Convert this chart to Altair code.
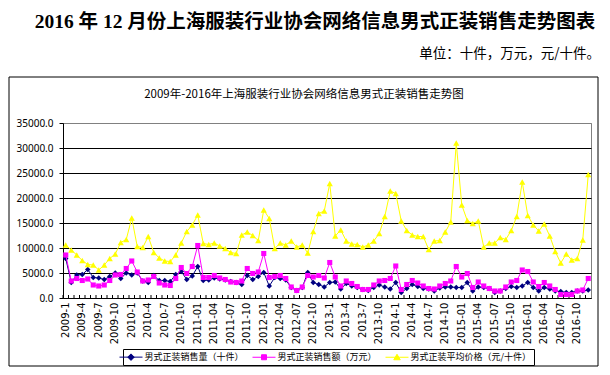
import altair as alt
import pandas as pd

# ---------------- data ----------------
YEARS = [2009, 2010, 2011, 2012, 2013, 2014, 2015, 2016]
ZERO_PADDED_YEARS = [2011, 2012, 2015, 2016]
MONTHS = [f"{y}-{m:02d}" if y in ZERO_PADDED_YEARS else f"{y}-{m}"
          for y in YEARS for m in range(1, 13)]

TICK_LABELS = [
    "2009-1", "2009-4", "2009-7", "2009-10",
    "2010-1", "2010-4", "2010-7", "2010-10",
    "2011-01", "2011-04", "2011-07", "2011-10",
    "2012-01", "2012-04", "2012-07", "2012-10",
    "2013-1", "2013-4", "2013-7", "2013-10",
    "2014-1", "2014-4", "2014-7", "2014-10",
    "2015-01", "2015-04", "2015-07", "2015-10",
    "2016-01", "2016-04", "2016-07", "2016-10",
]

SERIES = ["男式正装销售量（十件）", "男式正装销售额（万元）", "男式正装平均价格（元/十件）"]

QTY = [
    7900, 3100, 4600, 4700, 5700, 4100, 4000, 3700, 4300, 5000, 3900, 5000,
    4600, 5000, 3400, 3100, 4500, 3500, 3500, 3300, 4700, 5300, 3700, 4400,
    6300, 3500, 3600, 4000, 3800, 3600, 3300, 3100, 2700, 4500, 3700, 4300,
    5100, 2400, 4100, 3900, 3600, 2100, 1500, 2100, 5100, 3100, 2700, 2200,
    3100, 3200, 1800, 2900, 2400, 2100, 1700, 1500, 2100, 2600, 2200, 1800,
    3100, 1100, 1900, 2700, 2300, 1900, 1800, 1400, 2000, 2200, 2200, 2100,
    2100, 3100, 1400, 2200, 2100, 1900, 1100, 1400, 1900, 2300, 2100, 2400,
    3100, 2100, 1400, 2100, 1800, 1400, 1300, 1100, 1100, 1400, 1400, 1600,
]

AMT = [
    8600, 3400, 3900, 3500, 3800, 2600, 2400, 2600, 3500, 4600, 4700, 5900,
    7400, 5200, 3400, 3600, 4300, 3000, 2600, 2500, 3900, 6100, 4900, 6300,
    10500, 4100, 4100, 4500, 4000, 3700, 3200, 3100, 3400, 5900, 4900, 5200,
    8900, 4100, 4300, 4500, 3900, 2200, 1500, 2200, 4500, 4200, 4500, 4000,
    7100, 4200, 2400, 3400, 2900, 2300, 1700, 1700, 2600, 3400, 3500, 3900,
    6400, 1700, 2700, 3500, 3000, 2400, 1900, 1800, 2400, 2900, 3400, 6300,
    4200, 4900, 2100, 3200, 2400, 1900, 1400, 1400, 2200, 3200, 3500, 5600,
    5300, 3200, 2300, 3100, 2400, 1700, 700, 700, 700, 1400, 1600, 3900,
]

PRICE = [
    10600, 9600, 8600, 7500, 6700, 6600, 5600, 6600, 7900, 8800, 11100, 11700,
    16000, 10300, 10100, 12300, 9100, 8000, 7400, 7300, 8600, 11000, 13300, 14600,
    16600, 10900, 10700, 11000, 10400, 9900, 9100, 8900, 12600, 13200, 12500, 11500,
    17600, 15900, 9900, 11000, 10600, 11400, 10200, 10600, 9000, 13300, 16900, 17400,
    22900, 12400, 13600, 11400, 10800, 10700, 10200, 10600, 11400, 12900, 16300, 21400,
    20900, 15400, 13500, 12600, 12300, 12300, 9700, 11400, 11500, 13200, 15200, 31000,
    18600, 15500, 14900, 15400, 10200, 11000, 11000, 12100, 11700, 13500, 16300, 23200,
    16500, 14600, 13400, 14800, 12400, 9300, 7000, 8800, 7600, 7900, 11600, 24700,
]

Y_TICKS = [0, 5000, 10000, 15000, 20000, 25000, 30000, 35000]
COLORS = ["#000080", "#FF00FF", "#FFFF00"]
SHAPES = ["diamond", "square", "triangle-up"]
SIZES = [30, 26, 38]
LEGEND_SYMBOLS = [
    "M-2.3,0H2.3M0,-0.65L0.65,0L0,0.65L-0.65,0Z",
    "M-2.3,0H2.3M-0.5,-0.5H0.5V0.5H-0.5Z",
    "M-2.3,0H2.3M0,-0.6L0.65,0.5H-0.65Z",
]

TITLE = "2016 年 12 月份上海服装行业协会网络信息男式正装销售走势图表"
SUBTITLE = "单位：十件，万元，元/十件。"
INNER_TITLE = "2009年-2016年上海服装行业协会网络信息男式正装销售走势图"

rows = []
for name, vals in zip(SERIES, [QTY, AMT, PRICE]):
    for m, v in zip(MONTHS, vals):
        rows.append({"month": m, "series": name, "value": v})
df = pd.DataFrame(rows)
month_df = pd.DataFrame({"month": MONTHS})

# ---------------- encodings ----------------
x_axis = alt.Axis(
    values=TICK_LABELS, labelAngle=-90, labelFont="DejaVu Sans", labelFontSize=10,
    labelColor="black", labelPadding=4, labelOverlap=False, ticks=False,
    domainColor="black", domainWidth=1, grid=False, title=None,
)
x_scale = alt.Scale(type="band", paddingInner=0, paddingOuter=0)


def x_enc(pos):
    return alt.X("month:O", sort=MONTHS, scale=x_scale, axis=x_axis, bandPosition=pos)


y_enc = alt.Y(
    "value:Q",
    scale=alt.Scale(domain=[0, 35000], nice=False, zero=True),
    axis=alt.Axis(
        values=Y_TICKS, format=".1f", labelFont="Noto Sans", labelFontSize=10,
        labelColor="black", tickColor="black", tickSize=4, labelPadding=6,
        domainColor="black", domainWidth=1,
        gridColor=alt.condition("datum.value >= 35000", alt.value("#808080"), alt.value("black")),
        gridWidth=1, gridOpacity=1, title=None,
    ),
)

base = alt.Chart(df)
layers = []

# category tick marks on the bottom axis
layers.append(
    alt.Chart(month_df).mark_rule(color="black", strokeWidth=1).encode(
        x=x_enc(0), y=alt.value(172), y2=alt.value(175)
    )
)

for name, color, shape, size in zip(SERIES, COLORS, SHAPES, SIZES):
    sub = base.transform_filter(alt.datum.series == name)
    layers.append(sub.mark_line(color=color, strokeWidth=1).encode(x=x_enc(0.5), y=y_enc))
    layers.append(
        sub.mark_point(shape=shape, filled=True, color=color, size=size, opacity=1).encode(
            x=x_enc(0.5), y=y_enc
        )
    )

legend = alt.Legend(
    title=None, orient="none", legendX=60, legendY=226, direction="horizontal",
    strokeColor="black", fillColor="white", padding=2.5,
    labelFont="Noto Sans CJK SC", labelFontSize=9, labelColor="black",
    symbolSize=100, symbolStrokeWidth=1, labelOffset=8, columnPadding=6, labelLimit=300,
)
layers.append(
    base.transform_filter("false").mark_point(filled=True, strokeWidth=1, opacity=1).encode(
        fill=alt.Fill("series:N", scale=alt.Scale(domain=SERIES, range=COLORS), legend=legend),
        stroke=alt.Stroke("series:N", scale=alt.Scale(domain=SERIES, range=COLORS), legend=legend),
        shape=alt.Shape("series:N", scale=alt.Scale(domain=SERIES, range=LEGEND_SYMBOLS), legend=legend),
    )
)

# chart area frame and texts
deco = alt.Chart(alt.Data(values=[{}]))
layers.append(
    deco.mark_rect(fill="transparent", stroke="black", strokeWidth=1).encode(
        x=alt.value(-54), x2=alt.value(535), y=alt.value(-46), y2=alt.value(243)
    )
)
layers.append(
    deco.mark_text(
        text=TITLE, font="Liberation Serif, Noto Sans CJK SC", fontSize=19.5,
        fontWeight="bold", align="center", baseline="alphabetic", color="black",
    ).encode(x=alt.value(252), y=alt.value(-95))
)
layers.append(
    deco.mark_text(
        text=SUBTITLE, font="Noto Sans CJK SC", fontSize=13.5,
        align="right", baseline="alphabetic", color="black",
    ).encode(x=alt.value(537), y=alt.value(-65))
)
layers.append(
    deco.mark_text(
        text=INNER_TITLE, font="Noto Sans CJK SC", fontSize=11.5,
        align="center", baseline="middle", color="black",
    ).encode(x=alt.value(241), y=alt.value(-28))
)

chart = alt.layer(*layers).properties(
    width=528, height=175,
    autosize=alt.AutoSizeParams(type="none"),
    padding={"left": 55, "top": 115, "right": 11, "bottom": 69},
    background="white",
).configure_view(
    fill="#C0C0C0", stroke="#808080", strokeWidth=1
)

chart.save("out.html", embed_options={"renderer": "svg", "actions": False})
